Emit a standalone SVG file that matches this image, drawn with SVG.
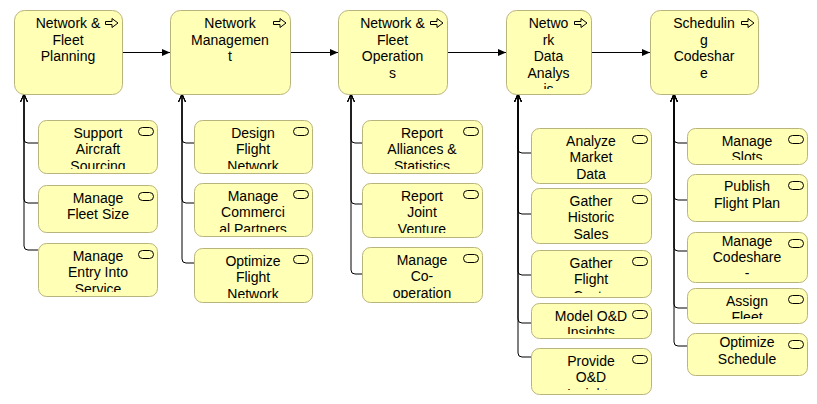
<svg xmlns="http://www.w3.org/2000/svg" width="817" height="404" viewBox="0 0 817 404">
<style>
.box{fill:#ffffb5;stroke:#b9b47c;stroke-width:1}
.t{font-family:"Liberation Sans",Arial,sans-serif;font-size:14px;fill:#000;text-anchor:middle}
.ic{fill:none;stroke:#000;stroke-width:1}
.c{fill:none;stroke:#000;stroke-width:1}
</style>
<defs>
<marker id="fa" markerUnits="userSpaceOnUse" markerWidth="10" markerHeight="10" refX="8" refY="4" orient="auto"><path d="M0,0.5 L8,4 L0,7.5 z" fill="#000"/></marker>
<marker id="oa" markerUnits="userSpaceOnUse" markerWidth="10" markerHeight="10" refX="8" refY="4" orient="auto"><path d="M0,0.5 L8,4 L0,7.5" fill="none" stroke="#000" stroke-width="1"/></marker>
<clipPath id="k1"><rect x="14" y="10" width="108" height="80"/></clipPath>
<clipPath id="k2"><rect x="170" y="10" width="120" height="80"/></clipPath>
<clipPath id="k3"><rect x="338" y="10" width="109" height="80"/></clipPath>
<clipPath id="k4"><rect x="506" y="10" width="85" height="79"/></clipPath>
<clipPath id="k5"><rect x="650" y="10" width="108" height="80"/></clipPath>
<clipPath id="a1"><rect x="38" y="120" width="119" height="49"/></clipPath>
<clipPath id="a2"><rect x="38" y="185" width="119" height="43"/></clipPath>
<clipPath id="a3"><rect x="38" y="243" width="119" height="49"/></clipPath>
<clipPath id="b1"><rect x="194" y="120" width="118" height="49"/></clipPath>
<clipPath id="b2"><rect x="194" y="183" width="118" height="49"/></clipPath>
<clipPath id="b3"><rect x="194" y="248" width="118" height="50"/></clipPath>
<clipPath id="c1"><rect x="362" y="120" width="120" height="49"/></clipPath>
<clipPath id="c2"><rect x="362" y="183" width="120" height="50"/></clipPath>
<clipPath id="c3"><rect x="362" y="247" width="120" height="51"/></clipPath>
<clipPath id="d1"><rect x="531" y="128" width="120" height="51"/></clipPath>
<clipPath id="d2"><rect x="531" y="188" width="120" height="51"/></clipPath>
<clipPath id="d3"><rect x="531" y="250" width="120" height="43"/></clipPath>
<clipPath id="d4"><rect x="531" y="303" width="120" height="31"/></clipPath>
<clipPath id="d5"><rect x="531" y="348" width="120" height="42"/></clipPath>
<clipPath id="e1"><rect x="687" y="128" width="120" height="32"/></clipPath>
<clipPath id="e2"><rect x="687" y="174" width="120" height="43"/></clipPath>
<clipPath id="e3"><rect x="687" y="232" width="120" height="46"/></clipPath>
<clipPath id="e4"><rect x="687" y="288" width="120" height="31"/></clipPath>
<clipPath id="e5"><rect x="687" y="333" width="120" height="38"/></clipPath>
</defs>

<g id="connectors">
<path class="c" d="M122,52.5 H170" marker-end="url(#fa)"/>
<path class="c" d="M290,52.5 H338" marker-end="url(#fa)"/>
<path class="c" d="M447,52.5 H506" marker-end="url(#fa)"/>
<path class="c" d="M591,52.5 H650" marker-end="url(#fa)"/>

<path class="c" d="M38,143 H28 Q24,143 24,139 V94" marker-end="url(#oa)"/>
<path class="c" d="M38,203 H28 Q24,203 24,199 V94" marker-end="url(#oa)"/>
<path class="c" d="M38,250 H28 Q24,250 24,246 V94" marker-end="url(#oa)"/>

<path class="c" d="M194,143 H186 Q182,143 182,139 V94" marker-end="url(#oa)"/>
<path class="c" d="M194,203 H186 Q182,203 182,199 V94" marker-end="url(#oa)"/>
<path class="c" d="M194,263 H186 Q182,263 182,259 V94" marker-end="url(#oa)"/>

<path class="c" d="M362,143 H355 Q351,143 351,139 V94" marker-end="url(#oa)"/>
<path class="c" d="M362,204 H355 Q351,204 351,200 V94" marker-end="url(#oa)"/>
<path class="c" d="M362,274 H355 Q351,274 351,270 V94" marker-end="url(#oa)"/>

<path class="c" d="M531,153 H522 Q518,153 518,149 V94" marker-end="url(#oa)"/>
<path class="c" d="M531,214 H522 Q518,214 518,210 V94" marker-end="url(#oa)"/>
<path class="c" d="M531,275 H522 Q518,275 518,271 V94" marker-end="url(#oa)"/>
<path class="c" d="M531,323 H522 Q518,323 518,319 V94" marker-end="url(#oa)"/>
<path class="c" d="M531,357 H522 Q518,357 518,353 V94" marker-end="url(#oa)"/>

<path class="c" d="M687,143 H678 Q674,143 674,139 V94" marker-end="url(#oa)"/>
<path class="c" d="M687,200 H678 Q674,200 674,196 V94" marker-end="url(#oa)"/>
<path class="c" d="M687,251 H678 Q674,251 674,247 V94" marker-end="url(#oa)"/>
<path class="c" d="M687,308 H678 Q674,308 674,304 V94" marker-end="url(#oa)"/>
<path class="c" d="M687,346 H678 Q674,346 674,342 V94" marker-end="url(#oa)"/>
</g>

<g id="n1">
<rect class="box" x="14.5" y="10.5" width="108" height="84" rx="10"/>
<path class="ic" d="M105.5,21.5 H112 V18.5 L118,23 L112,27.5 V24.5 H105.5 Z"/>
<text class="t" clip-path="url(#k1)"><tspan x="68" y="28">Network &amp;</tspan><tspan x="68" y="44.5">Fleet</tspan><tspan x="68" y="61">Planning</tspan></text>
</g>
<g id="n2">
<rect class="box" x="170.5" y="10.5" width="120" height="84" rx="10"/>
<path class="ic" d="M273.5,21.5 H280 V18.5 L286,23 L280,27.5 V24.5 H273.5 Z"/>
<text class="t" clip-path="url(#k2)"><tspan x="230" y="28">Network</tspan><tspan x="230" y="44.5">Managemen</tspan><tspan x="230" y="61">t</tspan></text>
</g>
<g id="n3">
<rect class="box" x="338.5" y="10.5" width="109" height="84" rx="10"/>
<path class="ic" d="M430.5,21.5 H437 V18.5 L443,23 L437,27.5 V24.5 H430.5 Z"/>
<text class="t" clip-path="url(#k3)"><tspan x="392.5" y="28">Network &amp;</tspan><tspan x="392.5" y="44.5">Fleet</tspan><tspan x="392.5" y="61">Operation</tspan><tspan x="392.5" y="77.5">s</tspan></text>
</g>
<g id="n4">
<rect class="box" x="506.5" y="10.5" width="85" height="84" rx="10"/>
<path class="ic" d="M574.5,21.5 H581 V18.5 L587,23 L581,27.5 V24.5 H574.5 Z"/>
<text class="t" clip-path="url(#k4)"><tspan x="548.5" y="28">Netwo</tspan><tspan x="548.5" y="44.5">rk</tspan><tspan x="548.5" y="61">Data</tspan><tspan x="548.5" y="77.5">Analys</tspan><tspan x="548.5" y="94">is</tspan></text>
</g>
<g id="n5">
<rect class="box" x="650.5" y="10.5" width="108" height="84" rx="10"/>
<path class="ic" d="M741.5,21.5 H748 V18.5 L754,23 L748,27.5 V24.5 H741.5 Z"/>
<text class="t" clip-path="url(#k5)"><tspan x="704" y="28">Schedulin</tspan><tspan x="704" y="44.5">g</tspan><tspan x="704" y="61">Codeshar</tspan><tspan x="704" y="77.5">e</tspan></text>
</g>

<g id="s1">
<rect class="box" x="38.5" y="120.5" width="119" height="53" rx="8"/>
<rect class="ic" x="138.5" y="127.5" width="15" height="8" rx="4"/>
<text class="t" clip-path="url(#a1)"><tspan x="98" y="137.5">Support</tspan><tspan x="98" y="154">Aircraft</tspan><tspan x="98" y="170.5">Sourcing</tspan></text>
</g>
<g id="s2">
<rect class="box" x="38.5" y="185.5" width="119" height="47" rx="8"/>
<rect class="ic" x="138.5" y="192.5" width="15" height="8" rx="4"/>
<text class="t" clip-path="url(#a2)"><tspan x="98" y="202.5">Manage</tspan><tspan x="98" y="219">Fleet Size</tspan></text>
</g>
<g id="s3">
<rect class="box" x="38.5" y="243.5" width="119" height="53" rx="8"/>
<rect class="ic" x="138.5" y="250.5" width="15" height="8" rx="4"/>
<text class="t" clip-path="url(#a3)"><tspan x="98" y="260.5">Manage</tspan><tspan x="98" y="277">Entry Into</tspan><tspan x="98" y="293.5">Service</tspan></text>
</g>

<g id="s4">
<rect class="box" x="194.5" y="120.5" width="118" height="53" rx="8"/>
<rect class="ic" x="293.5" y="127.5" width="15" height="8" rx="4"/>
<text class="t" clip-path="url(#b1)"><tspan x="253" y="137.5">Design</tspan><tspan x="253" y="154">Flight</tspan><tspan x="253" y="170.5">Network</tspan></text>
</g>
<g id="s5">
<rect class="box" x="194.5" y="183.5" width="118" height="53" rx="8"/>
<rect class="ic" x="293.5" y="190.5" width="15" height="8" rx="4"/>
<text class="t" clip-path="url(#b2)"><tspan x="253" y="200.5">Manage</tspan><tspan x="253" y="217">Commerci</tspan><tspan x="253" y="233.5">al Partners</tspan></text>
</g>
<g id="s6">
<rect class="box" x="194.5" y="248.5" width="118" height="54" rx="8"/>
<rect class="ic" x="293.5" y="255.5" width="15" height="8" rx="4"/>
<text class="t" clip-path="url(#b3)"><tspan x="253" y="265.5">Optimize</tspan><tspan x="253" y="282">Flight</tspan><tspan x="253" y="298.5">Network</tspan></text>
</g>

<g id="s7">
<rect class="box" x="362.5" y="120.5" width="120" height="53" rx="8"/>
<rect class="ic" x="463.5" y="127.5" width="15" height="8" rx="4"/>
<text class="t" clip-path="url(#c1)"><tspan x="422" y="137.5">Report</tspan><tspan x="422" y="154">Alliances &amp;</tspan><tspan x="422" y="170.5">Statistics</tspan></text>
</g>
<g id="s8">
<rect class="box" x="362.5" y="183.5" width="120" height="54" rx="8"/>
<rect class="ic" x="463.5" y="190.5" width="15" height="8" rx="4"/>
<text class="t" clip-path="url(#c2)"><tspan x="422" y="200.5">Report</tspan><tspan x="422" y="217">Joint</tspan><tspan x="422" y="233.5">Venture</tspan></text>
</g>
<g id="s9">
<rect class="box" x="362.5" y="247.5" width="120" height="55" rx="8"/>
<rect class="ic" x="463.5" y="254.5" width="15" height="8" rx="4"/>
<text class="t" clip-path="url(#c3)"><tspan x="422" y="264.5">Manage</tspan><tspan x="422" y="281">Co-</tspan><tspan x="422" y="297.5">operation</tspan></text>
</g>

<g id="s10">
<rect class="box" x="531.5" y="128.5" width="120" height="55" rx="8"/>
<rect class="ic" x="632.5" y="135.5" width="15" height="8" rx="4"/>
<text class="t" clip-path="url(#d1)"><tspan x="591" y="145.5">Analyze</tspan><tspan x="591" y="162">Market</tspan><tspan x="591" y="178.5">Data</tspan></text>
</g>
<g id="s11">
<rect class="box" x="531.5" y="188.5" width="120" height="55" rx="8"/>
<rect class="ic" x="632.5" y="195.5" width="15" height="8" rx="4"/>
<text class="t" clip-path="url(#d2)"><tspan x="591" y="205.5">Gather</tspan><tspan x="591" y="222">Historic</tspan><tspan x="591" y="238.5">Sales</tspan></text>
</g>
<g id="s12">
<rect class="box" x="531.5" y="250.5" width="120" height="47" rx="8"/>
<rect class="ic" x="632.5" y="257.5" width="15" height="8" rx="4"/>
<text class="t" clip-path="url(#d3)"><tspan x="591" y="267.5">Gather</tspan><tspan x="591" y="284">Flight</tspan><tspan x="591" y="300.5">Costs</tspan></text>
</g>
<g id="s13">
<rect class="box" x="531.5" y="303.5" width="120" height="35" rx="8"/>
<rect class="ic" x="632.5" y="310.5" width="15" height="8" rx="4"/>
<text class="t" clip-path="url(#d4)"><tspan x="591" y="320.5">Model O&amp;D</tspan><tspan x="591" y="337">Insights</tspan></text>
</g>
<g id="s14">
<rect class="box" x="531.5" y="348.5" width="120" height="46" rx="8"/>
<rect class="ic" x="632.5" y="355.5" width="15" height="8" rx="4"/>
<text class="t" clip-path="url(#d5)"><tspan x="591" y="365.5">Provide</tspan><tspan x="591" y="382">O&amp;D</tspan><tspan x="591" y="398.5">Insights</tspan></text>
</g>

<g id="s15">
<rect class="box" x="687.5" y="128.5" width="120" height="36" rx="8"/>
<rect class="ic" x="788.5" y="135.5" width="15" height="8" rx="4"/>
<text class="t" clip-path="url(#e1)"><tspan x="747" y="145.5">Manage</tspan><tspan x="747" y="162">Slots</tspan></text>
</g>
<g id="s16">
<rect class="box" x="687.5" y="174.5" width="120" height="47" rx="8"/>
<rect class="ic" x="788.5" y="181.5" width="15" height="8" rx="4"/>
<text class="t" clip-path="url(#e2)"><tspan x="747" y="191">Publish</tspan><tspan x="747" y="207.5">Flight Plan</tspan></text>
</g>
<g id="s17">
<rect class="box" x="687.5" y="232.5" width="120" height="50" rx="8"/>
<rect class="ic" x="788.5" y="239.5" width="15" height="8" rx="4"/>
<text class="t" clip-path="url(#e3)"><tspan x="747" y="245.5">Manage</tspan><tspan x="747" y="262">Codeshare</tspan><tspan x="747" y="278">-</tspan></text>
</g>
<g id="s18">
<rect class="box" x="687.5" y="288.5" width="120" height="35" rx="8"/>
<rect class="ic" x="788.5" y="295.5" width="15" height="8" rx="4"/>
<text class="t" clip-path="url(#e4)"><tspan x="747" y="305.5">Assign</tspan><tspan x="747" y="322">Fleet</tspan></text>
</g>
<g id="s19">
<rect class="box" x="687.5" y="333.5" width="120" height="42" rx="8"/>
<rect class="ic" x="788.5" y="340.5" width="15" height="8" rx="4"/>
<text class="t" clip-path="url(#e5)"><tspan x="747" y="347">Optimize</tspan><tspan x="747" y="364">Schedule</tspan></text>
</g>
</svg>
